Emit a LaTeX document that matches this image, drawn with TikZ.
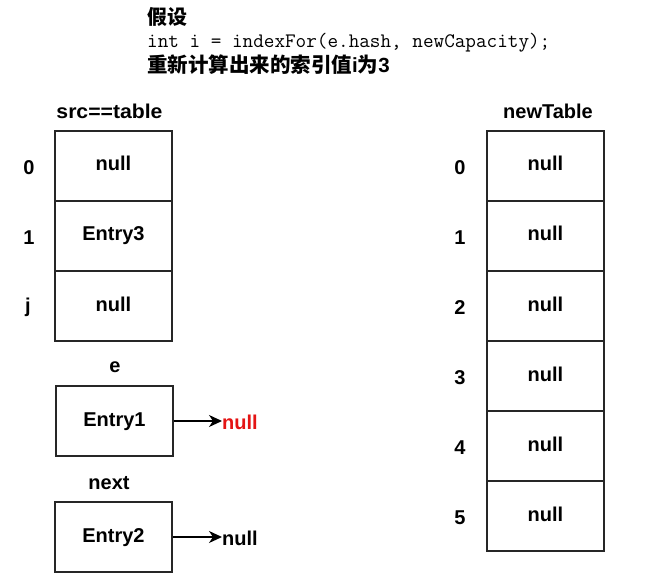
\documentclass[tikz,border=0pt]{standalone}
\usepackage{fontspec}
\setmainfont{Liberation Sans}
\newfontfamily\cjk{Noto Sans CJK SC}
\newfontfamily\widefont[FakeStretch=1.06]{Liberation Sans}
\usetikzlibrary{arrows.meta}
\definecolor{nullred}{RGB}{228,20,20}
\begin{document}
\begin{tikzpicture}[x=1pt,y=1pt,
  cell/.style={draw=black!85, line width=1.1pt, minimum width=117pt, minimum height=70pt, inner sep=0pt, text height=14pt, text depth=4pt, font=\fontsize{20}{24}\selectfont\bfseries},
  lbl/.style={inner sep=0pt, font=\fontsize{20}{24}\selectfont\bfseries},
  ptr/.style={line width=1.4pt, draw=black, arrows={-Stealth[length=13pt,width=12pt,inset=4pt]}}]
\useasboundingbox (0,0) rectangle (645,-577);
% header
\node[anchor=west, inner sep=0pt, font=\fontsize{20}{24}\selectfont\cjk\bfseries] (h1) at (147,-17) {假设};
\node[anchor=west, inner sep=0pt, font=\fontsize{20.6}{24}\selectfont\ttfamily] (h2) at (147,-43) {int i = indexFor(e.hash, newCapacity);};
\node[anchor=west, inner sep=0pt, font=\fontsize{20.5}{24}\selectfont\bfseries] (h3) at (147,-65) {{\cjk 重新计算出来的索引值}i{\cjk 为}3};
% titles
\node[lbl, font=\fontsize{20}{24}\selectfont\widefont\bfseries] (srct) at (109.5,-111) {src==table};
\node[lbl] (newt) at (548,-111) {newTable};
% source table
\node[cell] (s0) at (113.5,-166) {null};
\node[cell] (s1) at (113.5,-236) {Entry3};
\node[cell] (sj) at (113.5,-306) {null};
\node[lbl] (ls0) at (29,-168) {0};
\node[lbl] (ls1) at (29,-238) {1};
\node[lbl] (lsj) at (28,-307) {j};
% new table
\foreach \i in {0,...,5}{
  \node[cell] (n\i) at (545.5,{-166-70*\i}) {null};
  \node[lbl] (ln\i) at (460,{-168-70*\i}) {\i};
}
% e and next
\node[lbl] (le) at (115,-367) {e};
\node[cell] (e1) at (114.5,-421) {Entry1};
\node[lbl, anchor=west, text=nullred] (nullA) at (222,-422) {null};
\draw[ptr] (e1.east) -- (e1.east -| nullA.west);
\node[lbl] (lnext) at (109,-483) {next};
\node[cell] (e2) at (113.5,-537) {Entry2};
\node[lbl, anchor=west] (nullB) at (222,-538) {null};
\draw[ptr] (e2.east) -- (e2.east -| nullB.west);
\end{tikzpicture}
\end{document}
